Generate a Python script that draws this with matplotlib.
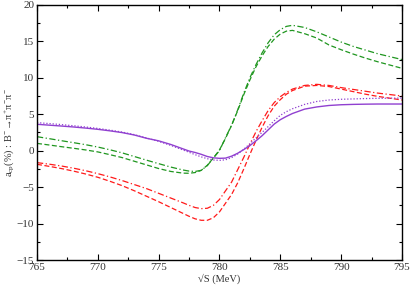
import matplotlib
matplotlib.use("Agg")
import matplotlib.pyplot as plt
from matplotlib.ticker import MultipleLocator

plt.rcParams['font.family'] = ['Liberation Serif', 'DejaVu Serif']
plt.rcParams['mathtext.fontset'] = 'custom'
plt.rcParams['mathtext.rm'] = 'Liberation Serif'
plt.rcParams['mathtext.it'] = 'Liberation Serif'
plt.rcParams['mathtext.sf'] = 'Liberation Serif'

x = [765, 766, 767, 768, 769, 770, 771, 772, 773, 774, 775, 776, 777, 777.5, 778,
     778.5, 779, 779.5, 780, 780.5, 781, 781.5, 782, 782.5, 783, 783.5, 784, 784.5,
     785, 785.5, 786, 787, 788, 789, 790, 791, 792, 793, 794, 795]

purple_solid = [3.62, 3.5, 3.38, 3.25, 3.1, 2.93, 2.72, 2.48, 2.15, 1.7, 1.35, 0.85, 0.25, -0.05, -0.25,
                -0.5, -0.8, -0.98, -1.05, -1.02, -0.75, -0.35, 0.15, 0.7, 1.35, 2.05, 2.85, 3.65,
                4.25, 4.7, 5.1, 5.7, 6.0, 6.2, 6.3, 6.35, 6.38, 6.4, 6.4, 6.4]

purple_dot = [3.85, 3.72, 3.58, 3.42, 3.25, 3.05, 2.82, 2.55, 2.2, 1.75, 1.28, 0.72, 0.1, -0.22, -0.55,
              -0.85, -1.1, -1.28, -1.33, -1.25, -0.95, -0.45, 0.2, 0.95, 1.75, 2.5, 3.3, 4.1,
              4.85, 5.35, 5.75, 6.35, 6.75, 6.95, 7.05, 7.1, 7.15, 7.18, 7.2, 7.22]

green_dashdot = [1.92, 1.65, 1.37, 1.1, 0.82, 0.5, 0.12, -0.3, -0.8, -1.3, -1.78, -2.25, -2.65, -2.8, -2.85,
                 -2.7, -2.05, -1.0, 0.0, 1.8, 3.5, 5.6, 7.9, 10.0, 11.8, 13.4, 14.8, 15.9,
                 16.6, 17.05, 17.2, 16.9, 16.3, 15.6, 14.9, 14.3, 13.8, 13.3, 12.9, 12.5]

green_dash = [1.0, 0.78, 0.55, 0.33, 0.1, -0.17, -0.55, -0.95, -1.45, -1.95, -2.45, -2.85, -3.08, -3.1, -3.0,
              -2.7, -2.0, -1.0, 0.1, 1.7, 3.5, 5.5, 7.7, 9.7, 11.5, 13.0, 14.3, 15.3,
              16.0, 16.4, 16.5, 16.05, 15.45, 14.5, 13.85, 13.25, 12.7, 12.2, 11.75, 11.3]

red_dashdot = [-1.64, -1.85, -2.1, -2.4, -2.75, -3.15, -3.6, -4.1, -4.65, -5.2, -5.85, -6.5, -7.15, -7.5, -7.8,
               -7.95, -7.9, -7.5, -6.7, -5.5, -4.3, -2.6, -0.9, 0.9, 2.6, 4.1, 5.5, 6.6,
               7.4, 8.0, 8.45, 8.95, 9.1, 8.95, 8.65, 8.4, 8.15, 7.9, 7.7, 7.5]

red_dash = [-1.87, -2.15, -2.45, -2.8, -3.2, -3.65, -4.2, -4.8, -5.5, -6.25, -7.0, -7.8, -8.6, -9.0, -9.35,
            -9.55, -9.55, -9.2, -8.4, -7.2, -6.0, -4.4, -2.5, -0.5, 1.4, 3.2, 4.8, 6.1,
            7.0, 7.75, 8.25, 8.85, 8.95, 8.8, 8.45, 8.1, 7.75, 7.45, 7.2, 6.95]

purple = '#9040d0'
green = '#1f961f'
red = '#ff1a1a'

fig = plt.figure(figsize=(4.11, 2.87), dpi=100)
ax = fig.add_axes([0.09, 0.094, 0.888, 0.889])

lw = 0.9
ax.plot(x, green_dashdot, color=green, lw=lw, ls=(0, (5, 2, 1, 2)))
ax.plot(x, green_dash, color=green, lw=lw, ls=(0, (4, 2)))
ax.plot(x, red_dashdot, color=red, lw=lw, ls=(0, (5, 2, 1, 2)))
ax.plot(x, red_dash, color=red, lw=lw, ls=(0, (4, 2)))
ax.plot(x, purple_dot, color=purple, lw=lw, ls=(0, (1, 1.5)))
ax.plot(x, purple_solid, color=purple, lw=1.0, ls='-')

ax.set_xlim(765, 795)
ax.set_ylim(-15, 20)
ax.xaxis.set_major_locator(MultipleLocator(5))
ax.xaxis.set_minor_locator(MultipleLocator(2.5))
ax.yaxis.set_major_locator(MultipleLocator(5))
ax.yaxis.set_minor_locator(MultipleLocator(2.5))
ax.tick_params(which='both', direction='in', top=True, right=True, labelsize=8, width=0.8,
               colors='#000000', labelcolor='#333333', pad=2)
ax.tick_params(which='major', length=4)
ax.tick_params(which='minor', length=2)
for s in ax.spines.values():
    s.set_linewidth(1.0)

ax.set_xlabel('√S (MeV)', fontsize=7.5, labelpad=1, color='#333333')
ax.set_ylabel(r'a$_{\rm cp}$(%) : B$^{-}\!\rightarrow\!\pi^{+}\pi^{-}\pi^{-}$',
              fontsize=7.5, color='#333333')
ax.yaxis.set_label_coords(-0.058, 0.5)

fig.savefig('out.png', dpi=100)
